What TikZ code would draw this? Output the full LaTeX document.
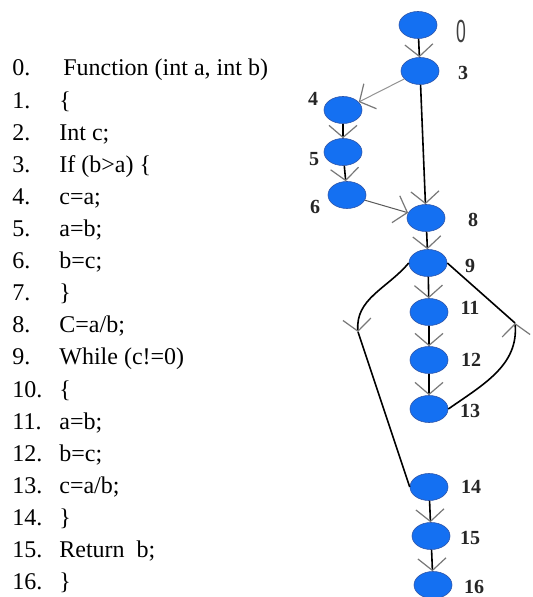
\documentclass[tikz,border=0pt]{standalone}
\usepackage{fontspec}
\setmainfont{Liberation Serif}
\setsansfont{Liberation Sans}
\usepackage{graphicx}
\usepackage{tikz}
\usetikzlibrary{shapes, arrows.meta, positioning, calc}

\definecolor{nodeblue}{RGB}{20,112,242}
\definecolor{rimblue}{RGB}{45,85,170}
\definecolor{barbgray}{RGB}{120,120,120}

\begin{document}
\begin{tikzpicture}[x=0.5pt, y=-0.5pt,
  blk/.style={ellipse, fill=nodeblue, draw=rimblue, line width=0.3pt,
    minimum width=19pt, minimum height=13.5pt, inner sep=0pt},
  lbl/.style={font=\fontsize{10}{10}\selectfont\bfseries, text=black!85, inner sep=0pt},
  src/.style={anchor=base west, font=\fontsize{12}{12}\selectfont, inner sep=0pt},
  flow/.style={line width=0.8pt,
    -{Straight Barb[length=6pt, width=14pt, line width=0.6pt, color=barbgray]}},
  wire/.style={line width=0.8pt}]
\path[use as bounding box, fill=white] (0,0) rectangle (532,597);

% Source listing
\foreach \txt [count=\i from 0] in {{\hspace{2pt}Function (int a, int b)}, \{, {Int c;},
    {If (b>a) \{}, {c=a;}, {a=b;}, {b=c;}, \}, {C=a/b;}, {While (c!=0)}, \{,
    {a=b;}, {b=c;}, {c=a/b;}, \}, {Return~~b;}, \}} {
  \node[src] (num\i) at (12, 76+32.1*\i) {\i.};
  \node[src] (code\i) at (59, 76+32.1*\i) {\txt};
}

% Flow graph nodes and their numbers
\node[blk] (n0) at (418,25) {};
\node[text=black!75, font=\sffamily\fontsize{16}{16}\selectfont, inner sep=0pt]
  (l0) at (461,31) {\scalebox{0.55}[1]{0}};
\foreach \id/\x/\y/\lx/\ly in {3/420/71/463/73, 4/343/110/313/99, 5/343/152/314/159,
    6/347/195/315/207, 8/426/218/473/220, 9/428/263/470/266, 11/429/312/470/308,
    12/429/360/471/360, 13/429/409/470/411, 14/429/487/471/487,
    15/431/536/470/538, 16/433/585/474/587} {
  \node[blk] (n\id) at (\x,\y) {};
  \node[lbl] (l\id) at (\lx,\ly) {\id};
}

% Edges
\draw[flow] (n0) -- (n3);
\draw[flow, draw=gray!85, line width=0.5pt] (n3) -- (n4);
\draw[flow] (n3) -- (n8);
\draw[flow] (n4) -- (n5);
\draw[flow] (n5) -- (n6);
\draw[flow, draw=black!65, line width=0.5pt] (n6) -- (n8);
\foreach \a/\b in {8/9, 9/11, 11/12, 12/13, 14/15, 15/16}
  \draw[flow] (n\a) -- (n\b);

% Loop exit (left) and loop back (right)
\coordinate (bl) at (358,332);
\coordinate (br) at (515,323);
\draw[flow] (n9.west) to[out=230, in=95] (bl);
\draw[wire] (bl) -- (n14.west);
\draw[flow] (n13.east) to[out=35, in=-85] (br);
\draw[wire] (br) -- (n9.east);
\end{tikzpicture}
\end{document}
